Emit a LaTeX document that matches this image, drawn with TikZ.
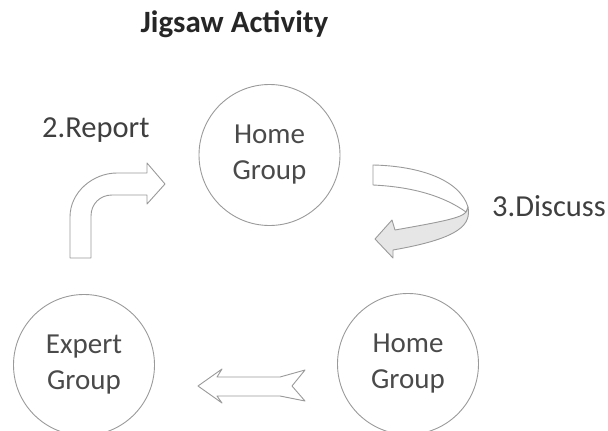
\documentclass[tikz,border=0pt]{standalone}
\usepackage{fontspec}
\setmainfont{Carlito}
\usepackage{tikz}
\definecolor{edge}{HTML}{9A9A9A}
\definecolor{ink}{HTML}{4A4A4A}
\definecolor{shade}{HTML}{E6E6E6}

\begin{document}
\begin{tikzpicture}[x=1pt,y=-1pt,line join=round,
  grp/.style={circle,draw=edge,line width=0.9pt,minimum size=141pt,inner sep=0pt,align=center,text=ink,font=\fontsize{29}{36}\selectfont},
  lbl/.style={inner sep=0pt,text=ink!85!black,font=\fontsize{30.5}{34}\selectfont},
  blockarrow/.style={draw=edge,line width=0.9pt,fill=white}]
\useasboundingbox (0,0) rectangle (608,431);
\node[inner sep=0pt,anchor=base,text=black!85,font=\fontsize{31}{34}\selectfont\bfseries] (title) at (234.5,32) {Jigsaw Activity};
\node[grp] (hometop) at (269.5,155) {Home\\Group};
\node[grp] (expert) at (84,365) {Expert\\Group};
\node[grp] (homebot) at (408,364) {Home\\Group};
\node[lbl,anchor=base west] (report) at (42,137) {2.Report};
\node[lbl,anchor=base west] (discuss) at (492,216) {3.Discuss};
% 2. report: bent arrow up and right
\draw[blockarrow] (70,258) -- (70,217) .. controls (70,192) and (93,173) .. (117,173) -- (147,173) -- (147,163) -- (165,184) -- (147,204) -- (147,195) -- (112,195) .. controls (100,195) and (91,204) .. (91,216) -- (91,258) -- cycle;
% 3. discuss: ribbon turning back
\draw[blockarrow,fill=shade] (468,207) .. controls (471,224) and (462,238) .. (393,250) -- (393,258) -- (375,239) -- (392,220) -- (395,230) .. controls (440,222) and (462,218) .. (466,212) -- cycle;
\draw[blockarrow] (373,165) .. controls (420,166) and (460,180) .. (468,207) -- (466,212) .. controls (445,197) and (415,187) .. (373,185) -- cycle;
% 1. expert: notched arrow to the left
\draw[blockarrow] (198,386) -- (222,369) -- (217,377) -- (280,377) -- (305,370) -- (292,386) -- (305,401) -- (280,396) -- (217,396) -- (222,403) -- cycle;
\end{tikzpicture}
\end{document}
